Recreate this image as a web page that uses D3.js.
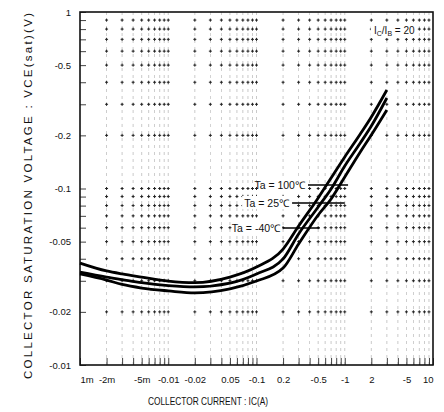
<!DOCTYPE html>
<html><head><meta charset="utf-8">
<script src="https://cdn.jsdelivr.net/npm/d3@7"></script>
<style>body{margin:0;background:#fff}svg{display:block}text{font-family:"Liberation Sans",Arial,sans-serif;fill:#111}</style>
</head><body><svg id="c" width="444" height="412"></svg>
<script>
// ---- data ----
const icValues = [0.001,0.002,0.003,0.005,0.01,0.02,0.05,0.1,0.2,0.3,0.5,0.7,1,1.5,2,3];
const vce100 = [0.0378,0.0341,0.0328,0.0315,0.0299,0.0293,0.0315,0.0359,0.0454,0.0613,0.0884,0.1147,0.1509,0.2036,0.2542,0.3614];
const vce25  = [0.0336,0.0315,0.0305,0.0293,0.0282,0.0277,0.0291,0.0328,0.0399,0.0553,0.0786,0.0994,0.1341,0.1810,0.2259,0.3256];
const vceM40 = [0.0328,0.0303,0.0286,0.0273,0.0263,0.0256,0.0270,0.0299,0.0354,0.0485,0.0708,0.0872,0.1162,0.1610,0.2009,0.2785];
const xTickValues = [0.001,0.002,0.005,0.01,0.02,0.05,0.1,0.2,0.5,1,2,5,10];
const xTickLabels = ["1m","-2m","-5m","-0.01","-0.02","0.05","-0.1","0.2","-0.5","-1","2","-5","10"];
const yTickValues = [1,0.5,0.2,0.1,0.05,0.02,0.01];
const yTickLabels = ["1","-0.5","-0.2","-0.1","-0.05","-0.02","-0.01"];
const labelNames = ["Ta = 100\u2103","Ta = 25\u2103","Ta = -40\u2103"];
const labelV = [0.1047,0.0828,0.0597];
const labelStartIc = [0.383,0.253,0.200];
const labelEndIc = [1.09,1.0,0.52];

// ---- chart ----
const svg = d3.select("#c");
const x = d3.scaleLog().domain([0.001,10]).range([80,433]);
const y = d3.scaleLog().domain([0.01,1]).range([365,12]);

const minorX = [];
for (let e=-3;e<1;e++) for (let m=1;m<10;m++) minorX.push(m*Math.pow(10,e));
minorX.push(10);
const minorY = [];
for (let e=-2;e<0;e++) for (let m=1;m<10;m++) minorY.push(m*Math.pow(10,e));
minorY.push(1);

const g = svg.append("g");
g.selectAll("line.vg").data(minorX.filter(d=>d>0.001&&d<10)).join("line")
  .attr("x1",d=>x(d)).attr("x2",d=>x(d)).attr("y1",y(1)).attr("y2",y(0.01))
  .attr("stroke","#777").attr("stroke-width",0.7).attr("stroke-dasharray","3,4").attr("opacity",0.55);
const pts = [];
minorX.filter(d=>d>0.001&&d<10).forEach(a=>minorY.filter(b=>b>0.01&&b<1).forEach(b=>pts.push([a,b])));
g.selectAll("path.cr").data(pts).join("path")
  .attr("d",d=>{const px=x(d[0]),py=y(d[1]);return `M${px-1.5},${py}H${px+1.5}M${px},${py-1.5}V${py+1.5}`;})
  .attr("stroke","#222").attr("stroke-width",1);

const ax = svg.append("g").attr("transform",`translate(0,${y(0.01)})`)
  .call(d3.axisBottom(x).tickValues(minorX).tickSize(-7).tickFormat(""));
ax.select(".domain").remove();
ax.selectAll("line").attr("stroke","#111").attr("stroke-width",0.8);
const ay = svg.append("g").attr("transform",`translate(${x(0.001)},0)`)
  .call(d3.axisLeft(y).tickValues(minorY).tickSize(-6).tickFormat(""));
ay.select(".domain").remove();
ay.selectAll("line").attr("stroke","#111").attr("stroke-width",0.8);

const xl = svg.append("g").attr("transform",`translate(0,${y(0.01)})`)
  .call(d3.axisBottom(x).tickValues(xTickValues).tickSize(0).tickPadding(11).tickFormat((d,i)=>xTickLabels[i]));
xl.select(".domain").remove();
xl.selectAll("text").attr("font-size","9.5px").attr("font-family","'Liberation Sans',Arial,sans-serif").attr("fill","#111")
  .attr("text-anchor",(d,i)=>i===0?"start":(i===xTickValues.length-1?"end":"middle"));
const yl = svg.append("g").attr("transform",`translate(${x(0.001)},0)`)
  .call(d3.axisLeft(y).tickValues(yTickValues).tickSize(0).tickPadding(9).tickFormat((d,i)=>yTickLabels[i]));
yl.select(".domain").remove();
yl.selectAll("text").attr("font-size","9.5px").attr("font-family","'Liberation Sans',Arial,sans-serif").attr("fill","#111");

svg.append("rect").attr("x",x(0.001)).attr("y",y(1)).attr("width",x(10)-x(0.001)).attr("height",y(0.01)-y(1))
  .attr("fill","none").attr("stroke","#111").attr("stroke-width",1.6);

const line = d3.line().x(d=>x(d[0])).y(d=>y(d[1])).curve(d3.curveMonotoneX);
[vce100,vce25,vceM40].forEach(s=>{
  svg.append("path").attr("d",line(icValues.map((c,i)=>[c,s[i]])))
    .attr("fill","none").attr("stroke","#000").attr("stroke-width",2.8);
});

labelNames.forEach((t,i)=>{
  svg.append("line").attr("x1",x(labelStartIc[i])).attr("x2",x(labelEndIc[i]))
    .attr("y1",y(labelV[i])).attr("y2",y(labelV[i])).attr("stroke","#000").attr("stroke-width",1.6);
  svg.append("rect").attr("x",x(labelStartIc[i])-50).attr("y",y(labelV[i])-7).attr("width",49).attr("height",13).attr("fill","#fff");
  svg.append("text").attr("x",x(labelStartIc[i])-3).attr("y",y(labelV[i])+4)
    .attr("text-anchor","end").attr("font-size","10.5px").text(t);
});

svg.append("rect").attr("x",371).attr("y",24).attr("width",46).attr("height",14).attr("fill","#fff");
const ann = svg.append("text").attr("x",374).attr("y",34).attr("font-size","10px");
ann.append("tspan").text("I");
ann.append("tspan").attr("font-size","7px").attr("dy",2).text("C");
ann.append("tspan").attr("dy",-2).text("/I");
ann.append("tspan").attr("font-size","7px").attr("dy",2).text("B");
ann.append("tspan").attr("dy",-2).text(" = 20");

svg.append("text").attr("x",208).attr("y",405).attr("text-anchor","middle").attr("font-size","11.5px")
  .attr("textLength",120).attr("lengthAdjust","spacingAndGlyphs")
  .text("COLLECTOR CURRENT : IC(A)");
svg.append("text").attr("transform","translate(32,196) rotate(-90)").attr("text-anchor","middle").attr("font-size","11.5px")
  .attr("textLength",366).attr("lengthAdjust","spacing")
  .text("COLLECTOR SATURATION VOLTAGE : VCE(sat)(V)");
</script></body></html>
